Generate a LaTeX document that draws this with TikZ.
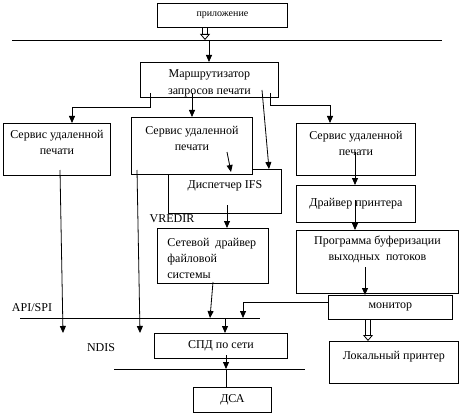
\documentclass[tikz,border=0pt]{standalone}
\usepackage{fontspec}
\setmainfont{Liberation Serif}
\usetikzlibrary{arrows.meta}

\begin{document}
\begin{tikzpicture}[x=1pt, y=-1pt, line width=0.8pt, >={Triangle[width=6pt,length=7pt]},
        box/.style={draw, fill=white, anchor=north west, inner sep=0pt, align=center, font=\fontsize{12}{16}\selectfont},
        inbox/.style={inner sep=0pt, anchor=north, align=center, font=\fontsize{12}{16}\selectfont},
        hollow/.style={double, double distance=4pt, -{Triangle[open, width=10pt, length=6pt]}}]
    \useasboundingbox (0,0) rectangle (462,414);

    % Nodes
    \node (app) [box, minimum width=130pt, minimum height=24pt, font=\fontsize{10}{12}\selectfont] at (157,3) {приложение};
    \node (rout) [box, minimum width=138pt, minimum height=35pt, label={[inbox, yshift=-7pt, font=\fontsize{12}{17}\selectfont]north:Маршрутизатор\\запросов печати}] at (140,62) {};
    \node (svcL) [box, minimum width=107pt, minimum height=52pt, label={[inbox, yshift=-7pt]north:Сервис удаленной\\печати}] at (3,123) {};
    \node (ifs) [box, minimum width=113pt, minimum height=44pt, label={[inbox, yshift=-11pt]north:Диспетчер IFS}] at (168,169) {};
    \node (svcM) [box, minimum width=121pt, minimum height=57pt, label={[inbox, yshift=-9pt]north:Сервис удаленной\\печати}] at (131,117) {};
    \node (svcR) [box, minimum width=119pt, minimum height=52pt, label={[inbox, yshift=-8pt]north:Сервис удаленной\\печати}] at (296,123) {};
    \node (drv) [box, minimum width=119pt, minimum height=37pt] at (296,185) {Драйвер принтера};
    \node (buf) [box, minimum width=162pt, minimum height=63pt, label={[inbox, yshift=-6pt]north:Программа буферизации\\выходных\ \ потоков}] at (296,230) {};
    \node (net) [box, minimum width=111pt, minimum height=55pt, label={[inbox, anchor=north west, align=left, xshift=10pt, yshift=-10pt]north west:Сетевой\ \ драйвер\\файловой\\системы}] at (157,228) {};
    \node (mon) [box, minimum width=124pt, minimum height=24pt] at (328,295) {монитор};
    \node (lp) [box, minimum width=129pt, minimum height=42pt, label={[inbox, yshift=-10pt]north:Локальный принтер}] at (329,341) {};
    \node (spd) [box, minimum width=133pt, minimum height=25pt] at (154,333) {СПД по сети};
    \node (dsa) [box, minimum width=78pt, minimum height=25pt] at (193,387) {ДСА};
    \node (vredir) [inbox, anchor=center] at (172,219) {VREDIR};
    \node (api) [inbox, anchor=center] at (32,308) {API/SPI};
    \node (ndis) [inbox, anchor=center] at (101,348) {NDIS};

    % Lines
    \draw (12,40) -- (442,40);
    \draw (20,318) -- (260,318);
    \draw (114,369) -- (305,369);

    % Points
    \coordinate (bus1) at (205,40);
    \coordinate (bus2) at (209,40);
    \coordinate (r1) at (150,93);
    \coordinate (kL) at (72,107);
    \coordinate (r2) at (192,93);
    \coordinate (r3) at (270,93);
    \coordinate (kR) at (330,105);
    \coordinate (r4) at (262,90);
    \coordinate (r4e) at (269,169);
    \coordinate (m1) at (227,152);
    \coordinate (m1e) at (231,172);
    \coordinate (f1) at (227,205);
    \coordinate (sL) at (60,170);
    \coordinate (sLe) at (63,333);
    \coordinate (sM) at (137,170);
    \coordinate (sMe) at (140,333);
    \coordinate (n1) at (213,282);
    \coordinate (n1e) at (210,318);
    \coordinate (p1) at (225,318);
    \coordinate (mk) at (243,302);
    \coordinate (v1) at (355,152);
    \coordinate (v2) at (355,200);
    \coordinate (v3) at (365,267);
    \coordinate (v4) at (368,330);
    \coordinate (s1) at (226,355);
    \coordinate (s1e) at (226,369);

    % Edges
    \draw[hollow] (app.south -| bus1) -- (bus1);
    \draw[->] (bus2) -- (rout.north -| bus2);
    \draw[->] (r1) |- (kL) -- (svcL.north -| kL);
    \draw[->] (r2) -- (svcM.north -| r2);
    \draw[->] (r3) |- (kR) -- (svcR.north -| kR);
    \draw[->] (r4) -- (r4e);  % into IFS
    \draw[->] (m1) -- (m1e);
    \draw[->] (f1) -- (net.north -| f1);
    \draw[->] (sL) -- (sLe);
    \draw[->] (sM) -- (sMe);
    \draw[->] (n1) -- (n1e);
    \draw[->] (p1) -- (spd.north -| p1);
    \draw[->] (mon.west |- mk) -- (mk) -- (mk |- p1);
    \draw[->] (v1) -- (drv.north -| v1);
    \draw[->] (v2) -- (buf.north -| v2);
    \draw[->] (v3) -- (mon.north -| v3);
    \draw[hollow] (mon.south -| v4) -- (lp.north -| v4);
    \draw[->] (s1) -- (s1e);
    \draw (s1e) -- (dsa.north -| s1e);
\end{tikzpicture}
\end{document}
